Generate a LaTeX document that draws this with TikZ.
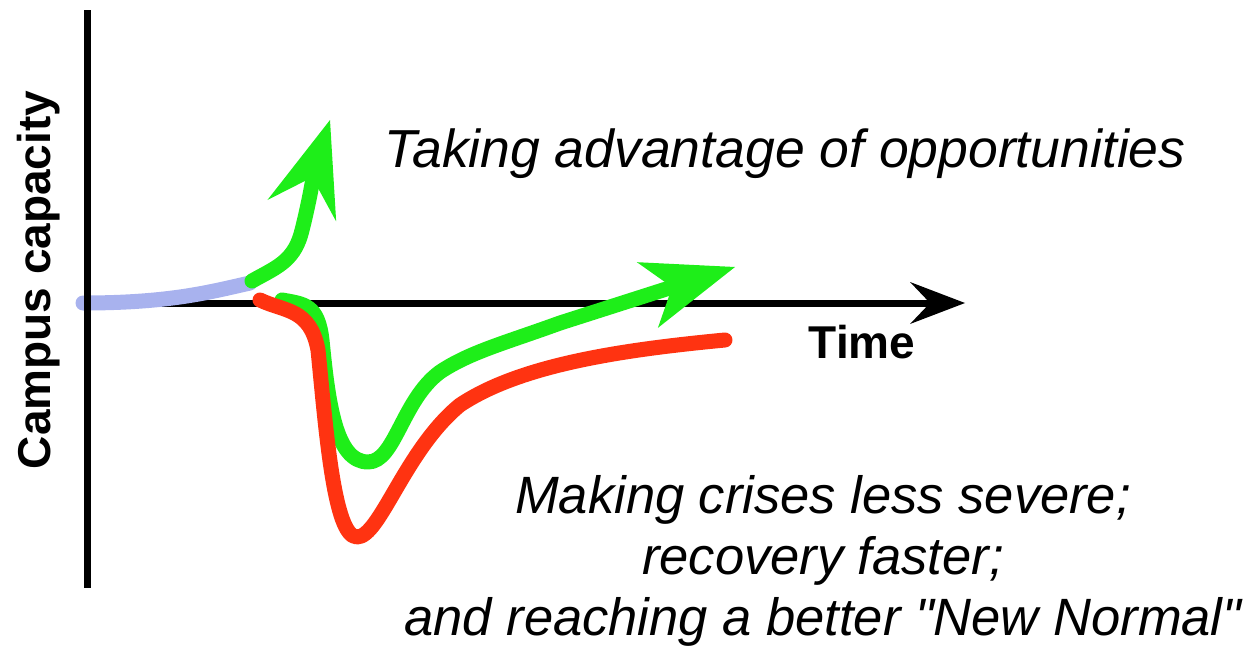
\documentclass[tikz,border=0pt]{standalone}
\usepackage{fontspec}
\setmainfont{Liberation Sans}
\usepackage{xcolor}
\usepackage{tikz}
\usetikzlibrary{arrows.meta,positioning,calc}
\definecolor{upgreen}{RGB}{30,238,25}
\definecolor{downred}{RGB}{255,51,17}
\definecolor{pastblue}{RGB}{168,178,238}

\begin{document}
\begin{tikzpicture}[x=1pt,y=-1pt,
  axis/.style={line width=7pt,black},
  curve/.style={line width=15pt,line cap=round,line join=round},
  lbl/.style={inner sep=0pt,font=\fontsize{53.5}{61}\selectfont\itshape},
  axlbl/.style={inner sep=0pt,font=\fontsize{46}{50}\selectfont\bfseries}]
\useasboundingbox (0,0) rectangle (1260,653);
\coordinate (origin) at (87,303);
\coordinate (ytop) at (87,10);
\coordinate (ybot) at (87,588);
\coordinate (xend) at (965,303);
\draw[axis,-{Stealth[length=55pt,width=42pt,inset=20pt,line width=0pt]}] (origin) -- (xend);
\draw[curve,pastblue] (83,303) .. controls (170,303) and (210,292) .. (250,283);
\draw[axis] (ytop) -- (ybot);
% opportunity
\draw[curve,upgreen,-{Stealth[length=95pt,width=72pt,inset=35pt,line width=0pt]}]
  (252,281) .. controls (275,268) and (293,262) .. (301,234)
  .. controls (308,208) and (316,165) .. (330,120);
% crisis, better path
\draw[curve,upgreen,-{Stealth[length=92pt,width=69pt,inset=26pt,line width=0pt]}]
  (282,300) .. controls (305,304) and (318,305) .. (322,340)
  .. controls (328,400) and (335,462) .. (368,462)
  .. controls (395,462) and (402,400) .. (440,372)
  .. controls (470,352) and (505,343) .. (560,323) -- (735,267);
\draw[curve,downred] (260,300) .. controls (285,312) and (310,308) .. (318,350)
  .. controls (326,430) and (334,537) .. (357,537)
  .. controls (380,537) and (405,450) .. (460,405)
  .. controls (520,365) and (620,350) .. (725,340);
\node[lbl,anchor=base] (opp) at (785,167) {Taking advantage of opportunities};
\node[lbl,anchor=base,align=center,font=\fontsize{52.5}{61}\selectfont\itshape] (crisis) at (823,635)
  {Making crises less severe;\\recovery faster;\\and reaching a better \textquotedbl New Normal\textquotedbl};
\node[axlbl,anchor=base] (time) at (862,358) {Time};
\node[axlbl,anchor=base,rotate=90] (cap) at (50,280) {Campus capacity};
\end{tikzpicture}
\end{document}
